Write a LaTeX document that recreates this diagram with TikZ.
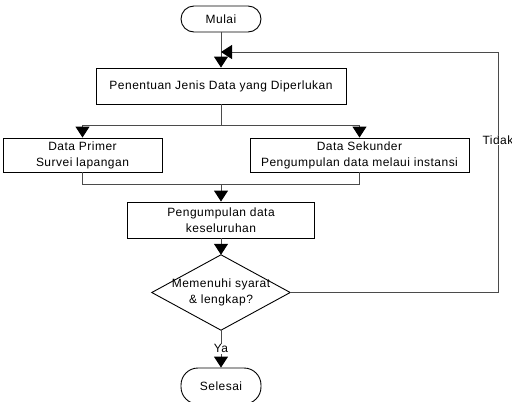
\documentclass[tikz,border=0pt]{standalone}
\usepackage{fontspec}
\setmainfont{Liberation Sans}[LetterSpace=4]
\usepackage{tikz}
\usetikzlibrary{arrows.meta, calc}
\definecolor{garis}{RGB}{75,75,75}

\tikzset{
  proses/.style={draw=black, line width=0.9pt, fill=white, align=center, inner sep=2pt},
  terminal/.style={draw=black, line width=0.9pt, minimum width=80pt, rounded corners=13pt, inner sep=2pt},
  garisalir/.style={draw=garis, line width=1pt},
  panah/.style={garisalir, -{Triangle[length=11pt, width=14pt, fill=black, color=black]}},
}

\begin{document}
\begin{tikzpicture}[x=1pt, y=-1pt, font=\fontsize{12}{16}\selectfont]
  \useasboundingbox (0,0) rectangle (512,402);

  % nodes
  \node[terminal, minimum height=26pt] (mulai) at (221,19) {Mulai};
  \node[proses, minimum width=250pt, minimum height=36pt] (jenis) at (221,86) {Penentuan Jenis Data yang Diperlukan};
  \node[proses, minimum width=159pt, minimum height=34pt] (primer) at (82.5,155) {Data Primer\\Survei lapangan};
  \node[proses, minimum width=219pt, minimum height=34pt] (sekunder) at (359.5,155) {Data Sekunder\\Pengumpulan data melaui instansi};
  \node[proses, minimum width=187pt, minimum height=36pt] (kumpul) at (221,220) {Pengumpulan data\\keseluruhan};
  \node[minimum width=138pt, minimum height=75pt, inner sep=0pt, align=center] (syarat) at (221,292.5) {Memenuhi syarat\\\& lengkap?};
  \draw[line width=0.9pt] (syarat.north) -- (syarat.east) -- (syarat.south) -- (syarat.west) -- cycle;
  \node[terminal, minimum height=36pt, rounded corners=17pt] (selesai) at (221,386) {Selesai};

  % helper points
  \coordinate (cabang) at (221,125);
  \coordinate (gabung) at (221,184);
  \coordinate (balik) at (221,52);
  \coordinate (pojok) at (498,52);

  % connectors
  \draw[panah] (mulai) -- (jenis);
  \draw[garisalir] (jenis.south) -- (cabang);
  \draw[panah] (cabang) -| (primer.north);
  \draw[panah] (cabang) -| (sekunder.north);
  \draw[garisalir] (primer.south) |- (gabung);
  \draw[garisalir] (sekunder.south) |- (gabung);
  \draw[panah] (gabung) -- (kumpul);
  \draw[panah] (kumpul) -- (syarat.north);
  \draw[panah] (syarat.east) -| (pojok) -- (balik);
  \node[fill=white, inner sep=1pt] (tidak) at (498,140) {Tidak};
  \draw[panah] (syarat.south) -- node[fill=white, inner sep=1pt] (ya) {Ya} (selesai.north);
\end{tikzpicture}
\end{document}
